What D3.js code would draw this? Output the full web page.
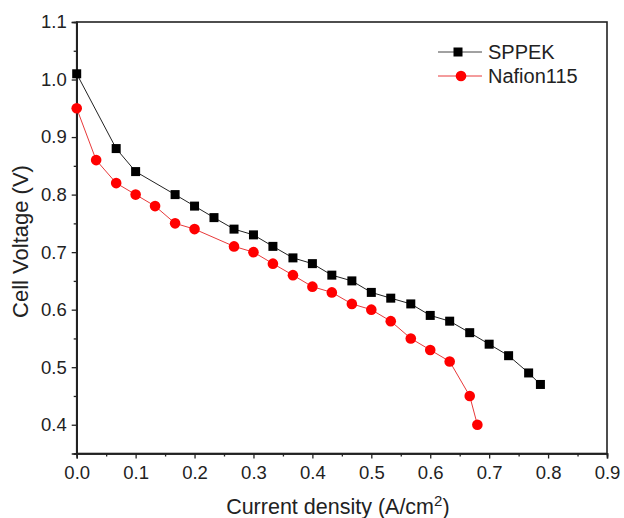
<!DOCTYPE html>
<html><head><meta charset="utf-8">
<script src="https://cdn.jsdelivr.net/npm/d3@7"></script>
<style>body{margin:0;background:#fff}svg{display:block}text{font-family:"Liberation Sans",Arial,sans-serif}</style>
</head><body>
<script>
const sppekX = [0, 0.067, 0.1, 0.167, 0.2, 0.233, 0.267, 0.3, 0.333, 0.367, 0.4, 0.433, 0.467, 0.5, 0.533, 0.567, 0.6, 0.633, 0.667, 0.7, 0.733, 0.767, 0.787];
const sppekY = [1.01, 0.88, 0.84, 0.80, 0.78, 0.76, 0.74, 0.73, 0.71, 0.69, 0.68, 0.66, 0.65, 0.63, 0.62, 0.61, 0.59, 0.58, 0.56, 0.54, 0.52, 0.49, 0.47];
const nafionX = [0, 0.033, 0.067, 0.1, 0.133, 0.167, 0.2, 0.267, 0.3, 0.333, 0.367, 0.4, 0.433, 0.467, 0.5, 0.533, 0.567, 0.6, 0.633, 0.667, 0.68];
const nafionY = [0.95, 0.86, 0.82, 0.80, 0.78, 0.75, 0.74, 0.71, 0.70, 0.68, 0.66, 0.64, 0.63, 0.61, 0.60, 0.58, 0.55, 0.53, 0.51, 0.45, 0.40];
const xTicks = [0, 0.1, 0.2, 0.3, 0.4, 0.5, 0.6, 0.7, 0.8, 0.9];
const yTicks = [0.4, 0.5, 0.6, 0.7, 0.8, 0.9, 1.0, 1.1];
const seriesNames = ["SPPEK", "Nafion115"];

const W = 624, H = 518;
const L = 76.7, R = 607, T = 22, B = 453.5;
const svg = d3.select("body").append("svg").attr("width", W).attr("height", H);
const x = d3.scaleLinear().domain([0, 0.9]).range([L, R]);
const y = d3.scaleLinear().domain([0.35, 1.1]).range([B, T]);

// frame
svg.append("rect").attr("x", L).attr("y", T).attr("width", R - L).attr("height", B - T)
  .attr("fill", "none").attr("stroke", "#222").attr("stroke-width", 1.6);

const xMinor = d3.range(0.05, 0.9, 0.1);
const yMinor = d3.range(0.35, 1.1, 0.1).map(v => +v.toFixed(2)).filter(v => !yTicks.some(t => Math.abs(t - v) < 1e-6));

svg.append("g").attr("transform", `translate(0,${B})`)
  .call(d3.axisBottom(x).tickValues(xTicks).tickFormat(d3.format(".1f")).tickSize(5).tickPadding(7));
svg.append("g").attr("transform", `translate(0,${B})`)
  .call(d3.axisBottom(x).tickValues(xMinor).tickFormat("").tickSize(3));
svg.append("g").attr("transform", `translate(${L},0)`)
  .call(d3.axisLeft(y).tickValues(yTicks).tickFormat(d3.format(".1f")).tickSize(5).tickPadding(5));
svg.append("g").attr("transform", `translate(${L},0)`)
  .call(d3.axisLeft(y).tickValues(yMinor).tickFormat("").tickSize(3));
svg.selectAll(".domain").attr("stroke", "#222").attr("stroke-width", 1.6);
svg.selectAll(".tick line").attr("stroke", "#222").attr("stroke-width", 1.3);
svg.selectAll(".tick text").attr("font-size", 18.5).attr("fill", "#222")
  .attr("font-family", "'Liberation Sans', Arial, sans-serif");

// axis titles
const xt = svg.append("text").attr("x", (L + R) / 2 - 4).attr("y", 514).attr("text-anchor", "middle")
  .attr("font-size", 21.5).attr("fill", "#222");
xt.append("tspan").text("Current density (A/cm");
xt.append("tspan").attr("dy", -8).attr("font-size", 15).text("2");
xt.append("tspan").attr("dy", 8).text(")");
svg.append("text").attr("transform", `translate(28,241.5) rotate(-90)`)
  .attr("text-anchor", "middle").attr("font-size", 22).attr("fill", "#222").text("Cell Voltage (V)");

const line = d3.line().x(d => x(d[0])).y(d => y(d[1]));
const sp = sppekX.map((v, i) => [v, sppekY[i]]);
const nf = nafionX.map((v, i) => [v, nafionY[i]]);

svg.append("path").datum(sp).attr("d", line).attr("fill", "none").attr("stroke", "#222").attr("stroke-width", 1);
svg.append("path").datum(nf).attr("d", line).attr("fill", "none").attr("stroke", "#e8393a").attr("stroke-width", 1);

svg.selectAll(".sq").data(sp).enter().append("rect")
  .attr("x", d => x(d[0]) - 4.5).attr("y", d => y(d[1]) - 4.5).attr("width", 9).attr("height", 9).attr("fill", "#000");
svg.selectAll(".ci").data(nf).enter().append("circle")
  .attr("cx", d => x(d[0])).attr("cy", d => y(d[1])).attr("r", 5.3).attr("fill", "#f00");

// legend
const lg = svg.append("g");
[0, 1].forEach(i => {
  const yy = 52 + i * 24;
  lg.append("line").attr("x1", 438).attr("x2", 482).attr("y1", yy).attr("y2", yy)
    .attr("stroke", i ? "#e8393a" : "#444").attr("stroke-width", 1);
  if (i === 0) lg.append("rect").attr("x", 458 - 4.5).attr("y", yy - 4.5).attr("width", 9).attr("height", 9).attr("fill", "#000");
  else lg.append("circle").attr("cx", 461).attr("cy", yy).attr("r", 5.3).attr("fill", "#f00");
  lg.append("text").attr("x", 488).attr("y", yy + 7).attr("font-size", 20).attr("fill", "#222").text(seriesNames[i]);
});
</script>
</body></html>
